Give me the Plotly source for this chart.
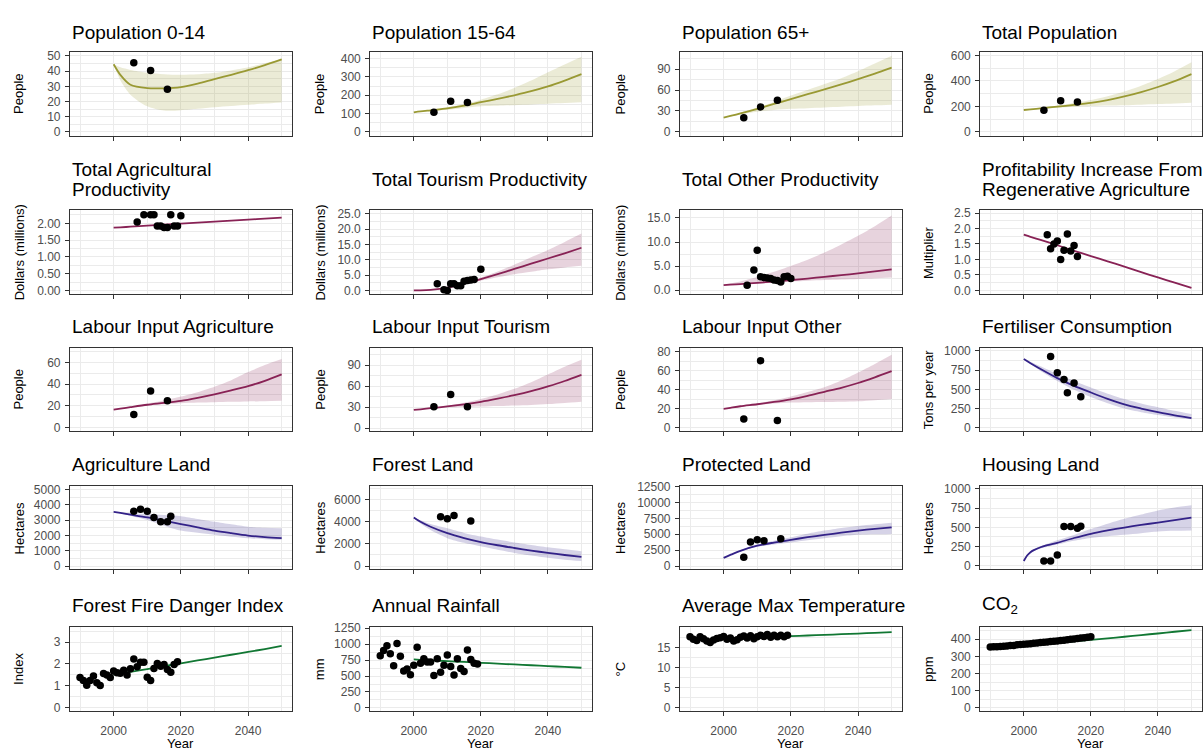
import plotly.graph_objects as go

FONT = "Liberation Sans, Arial, Helvetica, sans-serif"
W, H = 1203, 754

# ---------------- data ----------------
PROJ_YEARS = [2000, 2002, 2005, 2010, 2015, 2020, 2025, 2030, 2035, 2040, 2045, 2050]
HOUSE_PROJ_YEARS = [2000, 2001, 2002, 2003, 2005, 2007, 2010, 2015, 2020, 2025, 2030, 2035, 2040, 2045, 2050]
CENSUS_YEARS = [2006, 2011, 2016]
CLIM_YEARS = list(range(1990, 2020))
CO2_YEARS = list(range(1990, 2021))

pop014_obs = [45.6, 40.4, 28.0]
pop014_mid = [44.5, 37.5, 31.0, 28.8, 28.7, 29.5, 31.8, 34.8, 37.6, 40.6, 44.0, 47.8]
pop014_lo = [44.5, 34.0, 24.5, 16.8, 14.0, 14.3, 15.2, 16.2, 17.0, 17.8, 18.6, 19.3]
pop014_hi = [44.5, 42.5, 40.8, 39.0, 38.0, 37.6, 37.9, 38.9, 40.5, 42.6, 45.2, 48.0]

pop1564_obs = [107, 167, 161]
pop1564_mid = [107, 112, 118, 128, 143, 162, 180, 200, 222, 248, 280, 315]
pop1564_lo = [107, 110, 114, 121, 131, 140, 143, 146, 150, 154, 158, 162]
pop1564_hi = [107, 113, 121, 134, 152, 176, 205, 240, 280, 325, 368, 410]

pop65_obs = [20.3, 35.8, 45.2]
pop65_mid = [20.3, 22.8, 26.5, 33.0, 40.0, 47.0, 54.0, 61.0, 68.0, 75.5, 83.5, 92.0]
pop65_lo = [20.3, 22.2, 25.0, 29.0, 31.5, 33.0, 34.0, 35.0, 36.0, 37.0, 38.0, 39.0]
pop65_hi = [20.3, 23.2, 27.5, 35.0, 43.0, 52.0, 60.0, 68.5, 77.0, 87.0, 98.0, 109.0]

totpop_obs = [170, 245, 234]
totpop_mid = [172, 177, 185, 198, 212, 228, 250, 278, 312, 352, 398, 453]
totpop_lo = [172, 175, 181, 190, 197, 203, 207, 210, 214, 218, 223, 228]
totpop_hi = [172, 179, 189, 206, 226, 250, 280, 317, 362, 414, 475, 545]

agprod_years = [2007, 2009, 2011, 2012, 2013, 2014, 2015, 2016, 2017, 2018, 2019, 2020]
agprod_obs = [2.04, 2.26, 2.26, 2.26, 1.92, 1.92, 1.88, 1.88, 2.26, 1.92, 1.92, 2.23]
agprod_mid = [1.87, 1.88, 1.90, 1.93, 1.96, 1.99, 2.02, 2.05, 2.08, 2.11, 2.14, 2.17]

tour_years = [2007, 2009, 2010, 2011, 2012, 2013, 2014, 2015, 2016, 2017, 2018, 2020]
tour_obs = [2.2, 0.2, 0.0, 2.2, 2.2, 1.5, 1.5, 3.0, 3.2, 3.4, 3.6, 6.9]
tour_mid = [0.0, 0.02, 0.2, 0.9, 2.2, 3.7, 5.3, 7.0, 8.7, 10.4, 12.1, 13.9]
tour_lo = [0.0, 0.02, 0.2, 0.85, 2.0, 3.2, 4.3, 5.3, 6.1, 6.9, 7.5, 8.0]
tour_hi = [0.0, 0.02, 0.2, 1.0, 2.4, 4.2, 6.2, 8.4, 10.8, 13.2, 15.8, 18.5]

other_years = [2007, 2009, 2010, 2011, 2012, 2013, 2014, 2015, 2016, 2017, 2018, 2019, 2020]
other_obs = [1.0, 4.2, 8.3, 2.8, 2.6, 2.5, 2.4, 2.1, 2.0, 1.7, 2.8, 2.9, 2.4]
other_mid = [1.04, 1.12, 1.25, 1.5, 1.78, 2.07, 2.4, 2.76, 3.1, 3.46, 3.88, 4.3]
other_lo = [1.0, 1.05, 1.15, 1.35, 1.55, 1.75, 1.92, 2.08, 2.2, 2.32, 2.45, 2.6]
other_hi = [1.1, 1.4, 1.8, 2.7, 3.8, 5.0, 6.3, 7.8, 9.5, 11.3, 13.3, 15.5]

profit_years = [2007, 2008, 2009, 2010, 2011, 2012, 2013, 2014, 2015, 2016]
profit_obs = [1.80, 1.35, 1.50, 1.60, 1.00, 1.30, 1.82, 1.27, 1.45, 1.10]
profit_mid = [1.80, 1.73, 1.63, 1.46, 1.28, 1.11, 0.94, 0.77, 0.59, 0.42, 0.25, 0.08]

labag_obs = [12.0, 33.6, 24.6]
labag_mid = [16.5, 17.4, 18.8, 21.0, 22.7, 24.6, 27.4, 30.6, 34.2, 38.1, 43.0, 48.9]
labag_lo = [16.5, 17.3, 18.5, 20.3, 21.5, 22.4, 23.0, 23.4, 23.7, 24.0, 24.3, 24.6]
labag_hi = [16.5, 17.6, 19.2, 22.0, 24.8, 28.5, 32.5, 37.5, 43.5, 51.0, 57.5, 63.0]

labtour_obs = [30.5, 47.8, 30.5]
labtour_mid = [25.8, 26.8, 28.4, 30.8, 33.8, 37.5, 42.0, 46.9, 52.6, 59.5, 67.2, 76.0]
labtour_lo = [25.8, 26.6, 27.9, 29.6, 30.2, 30.6, 31.3, 32.1, 33.0, 34.2, 35.8, 37.5]
labtour_hi = [25.8, 27.0, 28.9, 32.0, 36.2, 41.5, 48.0, 56.0, 65.5, 76.5, 87.5, 97.5]

labother_obs = [9.3, 70.4, 7.6]
labother_mid = [19.9, 21.0, 22.6, 24.7, 27.1, 29.9, 33.5, 37.8, 42.0, 47.0, 53.0, 59.4]
labother_lo = [19.9, 20.8, 22.2, 24.0, 25.4, 26.4, 26.8, 27.0, 27.3, 27.8, 29.0, 30.2]
labother_hi = [19.9, 21.2, 23.0, 25.6, 28.8, 32.8, 37.5, 42.5, 49.5, 58.0, 67.0, 76.6]

fert_years = [2008, 2010, 2012, 2013, 2015, 2017]
fert_obs = [928, 715, 630, 455, 583, 404]
fert_mid = [894, 840, 765, 647, 545, 460, 378, 306, 252, 204, 162, 128]
fert_lo = [894, 830, 740, 610, 495, 400, 320, 252, 205, 168, 135, 112]
fert_hi = [894, 860, 800, 700, 610, 525, 445, 375, 318, 270, 222, 180]

agland_years = [2006, 2008, 2010, 2012, 2014, 2016, 2017]
agland_obs = [3584, 3712, 3584, 3176, 2897, 2897, 3262]
agland_mid = [3541, 3470, 3360, 3176, 2960, 2747, 2530, 2318, 2150, 1996, 1890, 1824]
agland_lo = [3541, 3440, 3280, 3004, 2640, 2318, 2170, 2039, 1920, 1824, 1760, 1717]
agland_hi = [3541, 3500, 3450, 3400, 3330, 3262, 3080, 2897, 2730, 2575, 2500, 2468]

forest_years = [2008, 2010, 2012, 2017]
forest_obs = [4455, 4277, 4574, 4069]
forest_mid = [4396, 4000, 3550, 2970, 2530, 2168, 1880, 1633, 1400, 1188, 1000, 832]
forest_lo = [4396, 3850, 3250, 2524, 2100, 1782, 1470, 1188, 950, 742, 580, 445]
forest_hi = [4396, 4150, 3800, 3415, 3000, 2673, 2390, 2138, 1910, 1693, 1510, 1337]

prot_years = [2006, 2008, 2010, 2012, 2017]
prot_obs = [1395, 3770, 4132, 3977, 4287]
prot_mid = [1291, 1750, 2400, 3202, 3700, 4132, 4540, 4907, 5250, 5579, 5850, 6095]
prot_lo = [1291, 1700, 2300, 3050, 3400, 3719, 4060, 4390, 4680, 4907, 4990, 5062]
prot_hi = [1291, 1800, 2500, 3400, 4000, 4545, 5100, 5579, 6000, 6302, 6580, 6818]

house_years = [2006, 2008, 2010, 2012, 2014, 2016, 2017]
house_obs = [64, 64, 140, 511, 511, 489, 515]
house_mid = [64, 135, 178, 205, 242, 268, 300, 362, 417, 460, 498, 532, 562, 595, 625]
house_lo = [64, 131, 170, 194, 227, 250, 278, 326, 362, 385, 404, 425, 447, 455, 460]
house_hi = [64, 139, 186, 216, 258, 288, 332, 402, 478, 548, 612, 667, 720, 758, 787]

ffdi_obs = [1.38, 1.25, 1.03, 1.25, 1.45, 1.15, 1.02, 1.57, 1.50, 1.38,
            1.68, 1.60, 1.58, 1.72, 1.50, 1.78, 2.23, 1.88, 2.08, 2.08,
            1.40, 1.25, 1.80, 2.02, 1.90, 1.98, 1.75, 1.62, 1.98, 2.10]
ffdi_mid = [1.52, 1.57, 1.64, 1.77, 1.90, 2.03, 2.16, 2.29, 2.42, 2.55, 2.68, 2.82]

rain_obs = [820, 900, 975, 850, 660, 1010, 810, 580, 610, 520,
            670, 950, 700, 770, 720, 720, 510, 770, 560, 670,
            830, 650, 515, 770, 620, 570, 910, 760, 700, 690]
rain_mid = [760, 755, 747, 734, 721, 708, 695, 682, 669, 656, 643, 630]

temp_obs = [17.6, 17.0, 16.7, 17.6, 17.1, 16.6, 16.2, 16.8, 17.2, 17.4,
            17.7, 17.0, 17.3, 16.6, 16.9, 17.5, 17.8, 17.3, 17.9, 17.1,
            17.6, 18.0, 17.7, 18.2, 17.5, 18.0, 17.6, 18.0, 17.6, 18.0]
temp_mid = [17.10, 17.17, 17.27, 17.43, 17.60, 17.76, 17.93, 18.09, 18.26, 18.42, 18.59, 18.75]

co2_obs = [354.4, 355.6, 356.4, 357.1, 358.8, 360.8, 362.6, 363.7, 366.7, 368.4,
           369.7, 371.3, 373.5, 375.9, 377.7, 379.8, 381.9, 383.8, 385.6, 387.4,
           389.9, 391.7, 393.9, 396.5, 398.7, 400.8, 404.2, 406.5, 408.7, 411.7, 414.2]
co2_mid = [362, 365, 370, 379, 387, 396, 405, 414, 424, 433, 443, 453]

# ---------------- styling ----------------
OLIVE, WINE, INDIGO, GREEN = "#999933", "#882255", "#332288", "#117733"
FILLS = {OLIVE: "rgba(153,153,51,0.2)", WINE: "rgba(136,34,85,0.2)",
         INDIGO: "rgba(51,34,136,0.2)", GREEN: "rgba(17,119,51,0.2)"}
GRID = "#EBEBEB"
BORDER = "#333333"

PANELS = [
    dict(title=["Population 0-14"], yt="People", col=OLIVE, ox=CENSUS_YEARS, oy=pop014_obs,
         mid=pop014_mid, lo=pop014_lo, hi=pop014_hi, yr=[-2.6, 52.6], dt=10, fmt="d"),
    dict(title=["Population 15-64"], yt="People", col=OLIVE, ox=CENSUS_YEARS, oy=pop1564_obs,
         mid=pop1564_mid, lo=pop1564_lo, hi=pop1564_hi, yr=[-21, 436], dt=100, fmt="d"),
    dict(title=["Population 65+"], yt="People", col=OLIVE, ox=CENSUS_YEARS, oy=pop65_obs,
         mid=pop65_mid, lo=pop65_lo, hi=pop65_hi, yr=[-5.6, 114.5], dt=30, fmt="d"),
    dict(title=["Total Population"], yt="People", col=OLIVE, ox=CENSUS_YEARS, oy=totpop_obs,
         mid=totpop_mid, lo=totpop_lo, hi=totpop_hi, yr=[-30, 626], dt=200, fmt="d"),
    dict(title=["Total Agricultural", "Productivity"], yt="Dollars (millions)", col=WINE,
         ox=agprod_years, oy=agprod_obs, mid=agprod_mid, lo=None, hi=None,
         yr=[-0.12, 2.39], dt=0.5, fmt=".2f"),
    dict(title=["Total Tourism Productivity"], yt="Dollars (millions)", col=WINE,
         ox=tour_years, oy=tour_obs, mid=tour_mid, lo=tour_lo, hi=tour_hi,
         yr=[-1.3, 26.1], dt=5, fmt=".1f"),
    dict(title=["Total Other Productivity"], yt="Dollars (millions)", col=WINE,
         ox=other_years, oy=other_obs, mid=other_mid, lo=other_lo, hi=other_hi,
         yr=[-0.9, 16.6], dt=5, fmt=".1f"),
    dict(title=["Profitability Increase From", "Regenerative Agriculture"], yt="Multiplier", col=WINE,
         ox=profit_years, oy=profit_obs, mid=profit_mid, lo=None, hi=None,
         yr=[-0.13, 2.59], dt=0.5, fmt=".1f"),
    dict(title=["Labour Input Agriculture"], yt="People", col=WINE, ox=CENSUS_YEARS, oy=labag_obs,
         mid=labag_mid, lo=labag_lo, hi=labag_hi, yr=[-3.5, 73.5], dt=20, fmt="d"),
    dict(title=["Labour Input Tourism"], yt="People", col=WINE, ox=CENSUS_YEARS, oy=labtour_obs,
         mid=labtour_mid, lo=labtour_lo, hi=labtour_hi, yr=[-4.8, 114.8], dt=30, fmt="d"),
    dict(title=["Labour Input Other"], yt="People", col=WINE, ox=CENSUS_YEARS, oy=labother_obs,
         mid=labother_mid, lo=labother_lo, hi=labother_hi, yr=[-3.8, 84.1], dt=20, fmt="d"),
    dict(title=["Fertiliser Consumption"], yt="Tons per year", col=INDIGO, ox=fert_years, oy=fert_obs,
         mid=fert_mid, lo=fert_lo, hi=fert_hi, yr=[-45, 1042], dt=250, fmt="d"),
    dict(title=["Agriculture Land"], yt="Hectares", col=INDIGO, ox=agland_years, oy=agland_obs,
         mid=agland_mid, lo=agland_lo, hi=agland_hi, yr=[-215, 5257], dt=1000, fmt="d"),
    dict(title=["Forest Land"], yt="Hectares", col=INDIGO, ox=forest_years, oy=forest_obs,
         mid=forest_mid, lo=forest_lo, hi=forest_hi, yr=[-300, 7277], dt=2000, fmt="d"),
    dict(title=["Protected Land"], yt="Hectares", col=INDIGO, ox=prot_years, oy=prot_obs,
         mid=prot_mid, lo=prot_lo, hi=prot_hi, yr=[-516, 12655], dt=2500, fmt="d"),
    dict(title=["Housing Land"], yt="Hectares", col=INDIGO, ox=house_years, oy=house_obs,
         px=HOUSE_PROJ_YEARS, mid=house_mid, lo=house_lo, hi=house_hi,
         yr=[-45, 1042], dt=250, fmt="d"),
    dict(title=["Forest Fire Danger Index"], yt="Index", col=GREEN, ox=CLIM_YEARS, oy=ffdi_obs,
         mid=ffdi_mid, lo=None, hi=None, yr=[-0.12, 3.67], dt=1, fmt="d"),
    dict(title=["Annual Rainfall"], yt="mm", col=GREEN, ox=CLIM_YEARS, oy=rain_obs,
         mid=rain_mid, lo=None, hi=None, yr=[-42, 1265], dt=250, fmt="d"),
    dict(title=["Average Max Temperature"], yt="°C", col=GREEN, ox=CLIM_YEARS, oy=temp_obs,
         mid=temp_mid, lo=None, hi=None, yr=[-0.7, 19.97], dt=5, fmt="d"),
    dict(title=["CO<sub>2</sub>"], yt="ppm", col=GREEN, ox=CO2_YEARS, oy=co2_obs,
         mid=co2_mid, lo=None, hi=None, yr=[-16, 469], dt=100, fmt="d"),
]

# layout geometry (pixels)
COL_X = [(70, 292), (370.5, 592), (680.5, 902.5), (981, 1202.5)]
ROW_Y = [(46.7, 131.7), (207.3, 292.7), (346.7, 431.7), (486.7, 571.7), (630.5, 715)]
YTITLE_X = [19, 320.5, 621, 929.5]
TITLE_Y1 = [26.7, 176.3, 325.7, 465.7, 608.3]
TITLE_Y2 = (166.0, 186.7)

fig = go.Figure()
layout = {}
ann = []

for i, p in enumerate(PANELS):
    r, c = divmod(i, 4)
    n = "" if i == 0 else str(i + 1)
    xr, yr = "x" + n, "y" + n
    px = p.get("px", PROJ_YEARS)
    if p["hi"] is not None:
        fig.add_trace(go.Scatter(x=px, y=p["hi"], mode="lines",
                                 line=dict(width=0, shape="spline", smoothing=0.8),
                                 xaxis=xr, yaxis=yr, showlegend=False, hoverinfo="skip"))
        fig.add_trace(go.Scatter(x=px, y=p["lo"], mode="lines",
                                 line=dict(width=0, shape="spline", smoothing=0.8),
                                 fill="tonexty", fillcolor=FILLS[p["col"]],
                                 xaxis=xr, yaxis=yr, showlegend=False, hoverinfo="skip"))
    fig.add_trace(go.Scatter(x=px, y=p["mid"], mode="lines",
                             line=dict(color=p["col"], width=1.8, shape="spline", smoothing=0.8),
                             xaxis=xr, yaxis=yr, showlegend=False))
    fig.add_trace(go.Scatter(x=p["ox"], y=p["oy"], mode="markers",
                             marker=dict(color="black", size=7.5),
                             xaxis=xr, yaxis=yr, showlegend=False))

    x0, x1 = COL_X[c]
    y0, y1 = ROW_Y[r]
    common = dict(showline=True, mirror=True, linecolor=BORDER, linewidth=1,
                  ticks="outside", ticklen=4, tickcolor=BORDER, tickwidth=1,
                  showgrid=True, gridcolor=GRID, gridwidth=1.2, zeroline=False,
                  tickfont=dict(family=FONT, size=12, color="#4D4D4D"))
    layout["xaxis" + n] = dict(domain=[x0 / W, x1 / W], anchor=yr, range=[1987, 2053],
                               tick0=2000, dtick=20, tickformat="d",
                               showticklabels=(r == 4), ticklabelstandoff=5,
                               minor=dict(tick0=2000, dtick=10, showgrid=True,
                                          gridcolor=GRID, gridwidth=0.6),
                               **common)
    layout["yaxis" + n] = dict(domain=[1 - y1 / H, 1 - y0 / H], anchor=xr, range=p["yr"],
                               tick0=0, dtick=p["dt"], tickformat=p["fmt"],
                               ticklabelstandoff=2,
                               minor=dict(tick0=0, dtick=p["dt"] / 2, showgrid=True,
                                          gridcolor=GRID, gridwidth=0.6),
                               **common)

    # panel title
    if len(p["title"]) == 1:
        ann.append(dict(text=p["title"][0], x=x0 / W, y=1 - TITLE_Y1[r] / H,
                        xref="paper", yref="paper", xanchor="left", yanchor="middle",
                        showarrow=False, font=dict(family=FONT, size=19, color="black")))
    else:
        for line, ty in zip(p["title"], TITLE_Y2):
            ann.append(dict(text=line, x=x0 / W, y=1 - ty / H,
                            xref="paper", yref="paper", xanchor="left", yanchor="middle",
                            showarrow=False, font=dict(family=FONT, size=19, color="black")))
    # y axis title
    ann.append(dict(text=p["yt"], x=YTITLE_X[c] / W, y=1 - (y0 + y1) / 2 / H,
                    xref="paper", yref="paper", xanchor="center", yanchor="middle",
                    textangle=-90, showarrow=False,
                    font=dict(family=FONT, size=13, color="black")))
    if r == 4:
        ann.append(dict(text="Year", x=(x0 + x1) / 2 / W, y=1 - 748 / H,
                        xref="paper", yref="paper", xanchor="center", yanchor="middle",
                        showarrow=False, font=dict(family=FONT, size=13, color="black")))

fig.update_layout(**layout)
fig.update_layout(width=W, height=H, margin=dict(l=0, r=0, t=0, b=0),
                  paper_bgcolor="white", plot_bgcolor="white", showlegend=False,
                  hovermode=False, annotations=ann, font=dict(family=FONT))

fig.write_html("out.html", config={"displayModeBar": False},
               post_script="document.body.style.margin='0';")
